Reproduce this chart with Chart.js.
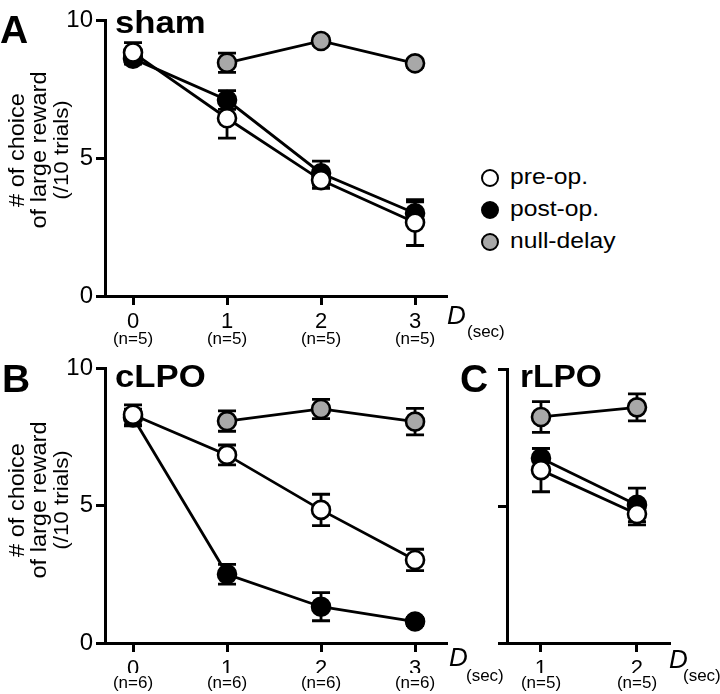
<!DOCTYPE html>
<html>
<head>
<meta charset="utf-8">
<script src="https://cdn.jsdelivr.net/npm/chart.js@4/dist/chart.umd.min.js"></script>
<style>
html,body{margin:0;padding:0;background:#fff;}
#wrap{position:relative;width:720px;height:694px;overflow:hidden;background:#fff;font-family:"Liberation Sans",Arial,Helvetica,sans-serif;color:#000;}
canvas{position:absolute;}
.t{position:absolute;white-space:nowrap;line-height:1;}
.lg{position:absolute;box-sizing:border-box;border:2.5px solid #000;border-radius:50%;}
</style>
</head>
<body>
<div id="wrap">
  <canvas id="cA" width="470" height="350" style="left:0;top:0;"></canvas>
  <canvas id="cB" width="470" height="346" style="left:0;top:348px;"></canvas>
  <canvas id="cC" width="250" height="346" style="left:470px;top:348px;"></canvas>
</div>
<script>
// ---------------- data ----------------
const seriesNames = ['pre-op.', 'post-op.', 'null-delay'];
const seriesFill = ['#ffffff', '#000000', '#a8a8a8'];

const delaysAB = [0, 1, 2, 3];
const delaysC = [1, 2];
const yTickVals = [0, 5, 10];

const nLabelsA = ['(n=5)', '(n=5)', '(n=5)', '(n=5)'];
const nLabelsB = ['(n=6)', '(n=6)', '(n=6)', '(n=6)'];
const nLabelsC = ['(n=5)', '(n=5)'];

// Panel A: sham
const shamPre = [8.82, 6.44, 4.2, 2.66];
const shamPreErr = [0.36, 0.72, 0.3, 0.83];
const shamPost = [8.6, 7.1, 4.45, 3.0];
const shamPostErr = [0.2, 0.34, 0.44, 0.41];
const shamNull = [null, 8.45, 9.24, 8.43];
const shamNullErr = [null, 0.35, 0.15, 0.15];

// Panel B: cLPO
const cLpoPre = [8.3, 6.84, 4.84, 3.02];
const cLpoPreErr = [0.36, 0.36, 0.57, 0.39];
const cLpoPost = [8.2, 2.5, 1.32, 0.78];
const cLpoPostErr = [0.3, 0.36, 0.51, 0.15];
const cLpoNull = [null, 8.07, 8.51, 8.05];
const cLpoNullErr = [null, 0.37, 0.35, 0.48];

// Panel C: rLPO
const rLpoPre = [6.31, 4.71];
const rLpoPreErr = [0.79, 0.4];
const rLpoPost = [6.74, 5.04];
const rLpoPostErr = [0.36, 0.61];
const rLpoNull = [8.25, 8.6];
const rLpoNullErr = [0.56, 0.49];

// ---------------- helpers ----------------
const FONT = '"Liberation Sans", Arial, Helvetica, sans-serif';
const wrap = document.getElementById('wrap');

function addText(txt, left, baseline, size, o) {
  o = o || {};
  const d = document.createElement('div');
  d.className = 't';
  d.textContent = txt;
  d.style.fontSize = size + 'px';
  d.style.left = left + 'px';
  d.style.top = (baseline - 0.8465 * size) + 'px';
  if (o.bold) d.style.fontWeight = 'bold';
  if (o.italic) d.style.fontStyle = 'italic';
  if (o.sx) { d.style.transformOrigin = '0 0'; d.style.transform = 'scaleX(' + o.sx + ')'; }
  wrap.appendChild(d);
}
function addVText(txt, cx, cy, size, sx) {
  const d = document.createElement('div');
  d.className = 't';
  d.textContent = txt;
  d.style.fontSize = size + 'px';
  d.style.left = cx + 'px';
  d.style.top = cy + 'px';
  d.style.transform = 'translate(-50%,-50%) rotate(-90deg) scaleX(' + sx + ')';
  wrap.appendChild(d);
}

const errorBars = {
  id: 'errorBars',
  beforeDatasetDraw(chart, args) {
    const ds = chart.data.datasets[args.index];
    const errs = ds.errValues;
    if (!errs) return;
    const ys = chart.scales.y;
    const ctx = chart.ctx;
    ctx.save();
    ctx.strokeStyle = '#000';
    ctx.lineWidth = 2.8;
    args.meta.data.forEach((pt, i) => {
      const v = ds.data[i].y, e = errs[i];
      if (v == null || e == null || !isFinite(pt.x)) return;
      const x = pt.x;
      const y1 = ys.getPixelForValue(v + e), y2 = ys.getPixelForValue(v - e);
      ctx.beginPath();
      ctx.moveTo(x, y1); ctx.lineTo(x, y2);
      ctx.moveTo(x - 9, y1); ctx.lineTo(x + 9, y1);
      ctx.moveTo(x - 9, y2); ctx.lineTo(x + 9, y2);
      ctx.stroke();
    });
    ctx.restore();
  }
};

function mkDataset(idx, xs, vals, errs) {
  return {
    label: seriesNames[idx],
    data: xs.map((x, i) => ({ x: x, y: vals[i] })),
    errValues: errs,
    borderColor: '#000',
    borderWidth: 2.8,
    backgroundColor: seriesFill[idx],
    pointBackgroundColor: seriesFill[idx],
    pointBorderColor: '#000',
    pointBorderWidth: 2.6,
    pointRadius: 9,
    pointHoverRadius: 9,
    fill: false,
    tension: 0,
    clip: false
  };
}

function makePanel(id, cfg) {
  const setTicks = (vals) => (s) => { s.ticks = vals.map(v => ({ value: v })); };
  new Chart(document.getElementById(id), {
    type: 'line',
    data: {
      datasets: [
        mkDataset(0, cfg.xs, cfg.pre, cfg.preErr),
        mkDataset(1, cfg.xs, cfg.post, cfg.postErr),
        mkDataset(2, cfg.xs, cfg.nul, cfg.nulErr)
      ]
    },
    options: {
      responsive: false,
      animation: false,
      devicePixelRatio: 1,
      events: [],
      layout: { autoPadding: false, padding: cfg.padding },
      plugins: { legend: { display: false }, tooltip: { enabled: false } },
      scales: {
        x: {
          type: 'linear', position: 'bottom', weight: 0,
          min: cfg.xmin, max: cfg.xmax,
          afterBuildTicks: setTicks(cfg.xs),
          grid: { display: true, drawOnChartArea: false, drawTicks: true, tickLength: 9, tickWidth: 3, tickColor: '#000' },
          border: { display: true, color: '#000', width: 3 },
          ticks: { color: '#000', font: { family: FONT, size: 22 }, padding: 4, maxRotation: 0, autoSkip: false,
                   callback: (v) => String(v) },
          afterFit: (s) => { s.height = cfg.xh; }
        },
        x2: {
          type: 'linear', position: 'bottom', weight: 1,
          min: cfg.xmin, max: cfg.xmax,
          afterBuildTicks: setTicks(cfg.xs),
          grid: { display: false, drawTicks: false, tickLength: 0 },
          border: { display: false },
          ticks: { color: '#000', font: { family: FONT, size: 17 }, padding: 0, maxRotation: 0, autoSkip: false,
                   callback: (v, i) => cfg.nLabels[i] },
          afterFit: (s) => { s.height = 18; }
        },
        y: {
          type: 'linear', position: 'left',
          min: 0, max: 10,
          afterBuildTicks: setTicks(yTickVals),
          grid: { display: true, drawOnChartArea: false, drawTicks: true, tickLength: 9, tickWidth: 3, tickColor: '#000' },
          border: { display: true, color: '#000', width: 3 },
          ticks: { display: cfg.yLabels, color: '#000', font: { family: FONT, size: 24 }, padding: 3 },
          afterFit: (s) => { s.width = cfg.yw; }
        }
      }
    },
    plugins: [errorBars]
  });
}

makePanel('cA', {
  xs: delaysAB, pre: shamPre, preErr: shamPreErr, post: shamPost, postErr: shamPostErr,
  nul: shamNull, nulErr: shamNullErr, xmin: -0.298, xmax: 3.34, nLabels: nLabelsA,
  padding: { left: 0, top: 20, right: 23, bottom: 3 }, xh: 33, yw: 105, yLabels: true
});
makePanel('cB', {
  xs: delaysAB, pre: cLpoPre, preErr: cLpoPreErr, post: cLpoPost, postErr: cLpoPostErr,
  nul: cLpoNull, nulErr: cLpoNullErr, xmin: -0.298, xmax: 3.34, nLabels: nLabelsB,
  padding: { left: 0, top: 20, right: 23, bottom: 3 }, xh: 30, yw: 105, yLabels: true
});
makePanel('cC', {
  xs: delaysC, pre: rLpoPre, preErr: rLpoPreErr, post: rLpoPost, postErr: rLpoPostErr,
  nul: rLpoNull, nulErr: rLpoNullErr, xmin: 0.646, xmax: 2.344, nLabels: nLabelsC,
  padding: { left: 0, top: 21, right: 50, bottom: 3 }, xh: 30, yw: 37, yLabels: false
});

// ---------------- text annotations ----------------
addText('A', 0, 43, 39, { bold: true });
addText('sham', 115, 33, 31, { bold: true, sx: 1.12 });
addText('B', 2, 392, 39, { bold: true });
addText('cLPO', 115, 387, 31, { bold: true, sx: 1.12 });
addText('C', 460, 392, 39, { bold: true });
addText('rLPO', 520, 387, 31, { bold: true, sx: 1.08 });

// y-axis titles
[[150], [500]].forEach(([cy]) => {
  addVText('# of choice', 17, cy, 22, 1.07);
  addVText('of large reward', 38.5, cy, 22, 1.07);
  addVText('(/10 trials)', 61, cy, 20, 1.12);
});

// D(sec) labels
addText('D', 447, 324, 26, { italic: true });
addText('(sec)', 467, 337, 17);
addText('D', 449, 666, 26, { italic: true });
addText('(sec)', 466, 681, 17);
addText('D', 669, 668, 26, { italic: true });
addText('(sec)', 683, 681, 17);

// legend
[178, 210, 242].forEach((cy, i) => {
  const c = document.createElement('div');
  c.className = 'lg';
  c.style.width = '18px'; c.style.height = '18px';
  c.style.left = (490 - 9) + 'px'; c.style.top = (cy - 9) + 'px';
  c.style.background = seriesFill[i];
  wrap.appendChild(c);
  addText(seriesNames[i], 510, cy + 7, 22, { sx: 1.12 });
});
</script>
</body>
</html>
